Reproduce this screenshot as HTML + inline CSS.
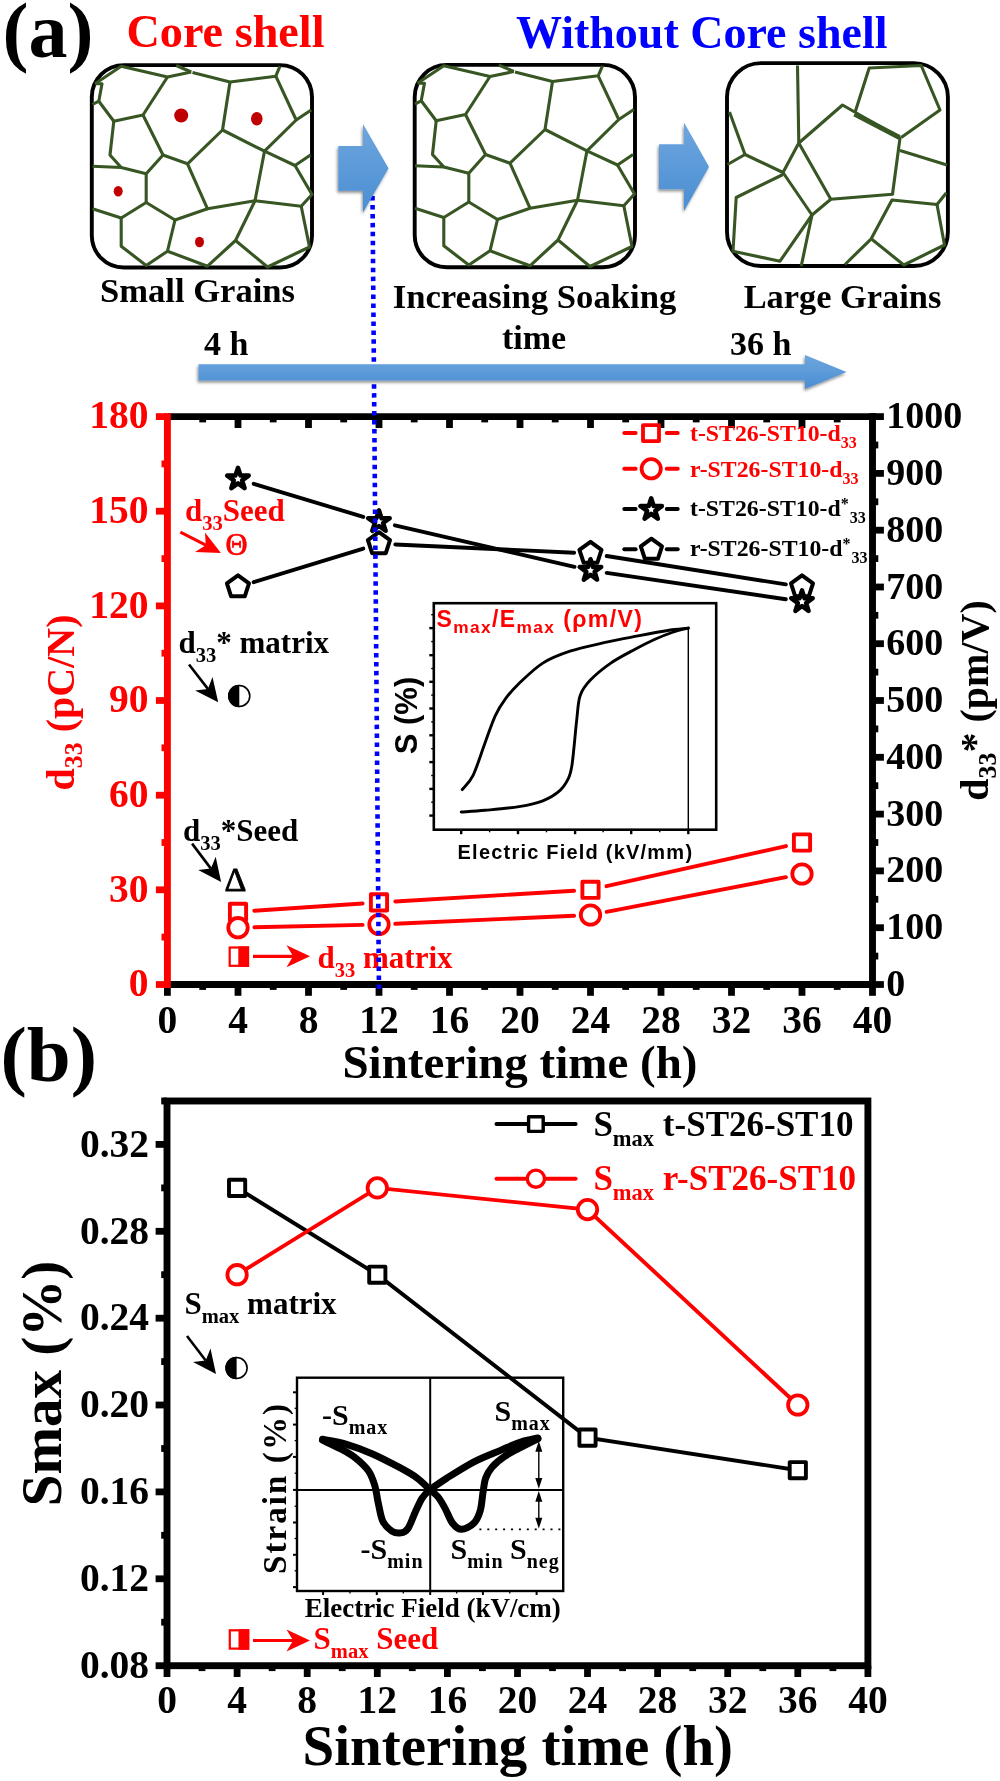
<!DOCTYPE html><html><head><meta charset="utf-8"><title>Figure</title>
<style>html,body{margin:0;padding:0;background:#fff}svg{display:block;opacity:0.999}text{font-family:"Liberation Serif","Times New Roman",serif;font-weight:bold}.sans{font-family:"Liberation Sans",Arial,sans-serif}</style></head><body>
<svg width="1000" height="1781" viewBox="0 0 1000 1781">
<defs><linearGradient id="bg" x1="0" y1="0" x2="0" y2="1"><stop offset="0" stop-color="#6ea6de"/><stop offset="1" stop-color="#4a8ed3"/></linearGradient><filter id="sh" x="-20%" y="-20%" width="140%" height="150%"><feGaussianBlur in="SourceAlpha" stdDeviation="1.6"/><feOffset dx="-0.8" dy="1.8"/><feComponentTransfer><feFuncA type="linear" slope="0.45"/></feComponentTransfer><feMerge><feMergeNode/><feMergeNode in="SourceGraphic"/></feMerge></filter></defs>
<rect width="1000" height="1781" fill="#fff"/>
<text x="2.5" y="56.5" font-size="78" fill="#000" text-anchor="start" >(a)</text>
<text x="126.5" y="47.0" font-size="46.2" fill="#ff0000" text-anchor="start" >Core shell</text>
<text x="516.0" y="47.5" font-size="46" fill="#0000ff" text-anchor="start" >Without Core shell</text>
<rect x="91.8" y="65.1" width="220.2" height="202.4" rx="32" ry="32" fill="none" stroke="#000" stroke-width="3.9"/>
<g fill="none" stroke="#375623" stroke-width="3.1" stroke-linejoin="round" stroke-linecap="butt">
<polyline points="95.0,83.8 121.2,66.2 167.5,77.0 191.2,72.0"/>
<polyline points="176.2,65.5 191.2,72.0"/>
<polyline points="192.5,72.5 230.0,82.0 275.8,76.2 280.0,66.2"/>
<polyline points="95.0,83.8 102.0,83.8 98.8,101.2 92.5,104.5"/>
<polyline points="98.8,101.2 113.8,121.2 143.0,115.0 167.5,77.0"/>
<polyline points="113.8,121.2 110.0,155.0 121.2,167.5 92.5,166.2"/>
<polyline points="121.2,167.5 146.2,173.8"/>
<polyline points="143.0,115.0 163.0,155.0 146.2,173.8 146.2,202.5"/>
<polyline points="163.0,155.0 187.5,163.8 222.5,130.0 230.0,82.0"/>
<polyline points="222.5,130.0 264.5,151.2 296.2,120.0 275.8,76.2"/>
<polyline points="296.2,120.0 311.2,110.0"/>
<polyline points="264.5,151.2 295.0,165.5 310.5,155.0"/>
<polyline points="295.0,165.5 312.0,194.5 301.2,206.2 255.0,200.8 264.5,151.2"/>
<polyline points="187.5,163.8 207.5,208.8 255.0,200.8"/>
<polyline points="207.5,208.8 175.0,220.0 146.2,202.5 121.2,218.0 92.5,208.8"/>
<polyline points="121.2,218.0 121.2,246.2 146.2,265.5 167.5,251.2 175.0,220.0"/>
<polyline points="167.5,251.2 207.5,266.2 235.5,240.5 255.0,200.8"/>
<polyline points="235.5,240.5 267.5,267.0 309.5,247.0 301.2,206.2"/>
</g>
<ellipse cx="181.2" cy="115.5" rx="7.0" ry="7.0" fill="#c00000"/>
<ellipse cx="256.8" cy="118.8" rx="5.8" ry="6.8" fill="#c00000"/>
<ellipse cx="118.2" cy="191.2" rx="4.5" ry="5.2" fill="#c00000"/>
<ellipse cx="199.5" cy="242.0" rx="4.5" ry="5.2" fill="#c00000"/>
<rect x="414.7" y="64.9" width="220.3" height="202.4" rx="32" ry="32" fill="none" stroke="#000" stroke-width="3.9"/>
<g fill="none" stroke="#375623" stroke-width="3.1" stroke-linejoin="round" stroke-linecap="butt">
<polyline points="417.5,83.2 443.8,65.8 490.0,76.5 513.8,71.5"/>
<polyline points="498.8,65.0 513.8,71.5"/>
<polyline points="515.0,72.0 552.5,81.5 598.2,75.8 602.5,65.8"/>
<polyline points="417.5,83.2 424.5,83.2 421.2,100.8 415.0,104.0"/>
<polyline points="421.2,100.8 436.2,120.8 465.5,114.5 490.0,76.5"/>
<polyline points="436.2,120.8 432.5,154.5 443.8,167.0 415.0,165.8"/>
<polyline points="443.8,167.0 468.8,173.2"/>
<polyline points="465.5,114.5 485.5,154.5 468.8,173.2 468.8,202.0"/>
<polyline points="485.5,154.5 510.0,163.2 545.0,129.5 552.5,81.5"/>
<polyline points="545.0,129.5 587.0,150.8 618.8,119.5 598.2,75.8"/>
<polyline points="618.8,119.5 633.8,109.5"/>
<polyline points="587.0,150.8 617.5,165.0 633.0,154.5"/>
<polyline points="617.5,165.0 634.5,194.0 623.8,205.8 577.5,200.2 587.0,150.8"/>
<polyline points="510.0,163.2 530.0,208.2 577.5,200.2"/>
<polyline points="530.0,208.2 497.5,219.5 468.8,202.0 443.8,217.5 415.0,208.2"/>
<polyline points="443.8,217.5 443.8,245.8 468.8,265.0 490.0,250.8 497.5,219.5"/>
<polyline points="490.0,250.8 530.0,265.8 558.0,240.0 577.5,200.2"/>
<polyline points="558.0,240.0 590.0,266.5 632.0,246.5 623.8,205.8"/>
</g>
<rect x="727.0" y="63.1" width="220.9" height="202.9" rx="34" ry="34" fill="none" stroke="#000" stroke-width="3.9"/>
<g fill="none" stroke="#375623" stroke-width="3.1" stroke-linejoin="round" stroke-linecap="butt">
<polyline points="797.5,65.5 798.8,143.0"/>
<polyline points="798.8,143.0 842.5,105.0 900.0,138.0 892.5,194.2 830.8,199.2 798.8,143.0"/>
<polyline points="855.0,112.5 869.2,68.0 921.2,65.5 940.0,110.0 901.2,137.5"/>
<polyline points="854.5,114.0 899.5,137.5" stroke-width="4.8"/>
<polyline points="900.0,150.5 947.0,165.0"/>
<polyline points="798.8,143.0 783.0,172.5 745.0,154.5 729.5,112.0"/>
<polyline points="745.0,154.5 727.5,164.5"/>
<polyline points="783.0,172.5 812.0,215.0 830.8,199.2"/>
<polyline points="783.0,174.5 736.2,197.5 733.0,251.2 780.0,261.2 812.0,215.0"/>
<polyline points="812.0,215.0 801.2,266.2"/>
<polyline points="845.0,264.5 871.2,238.8 892.0,200.0 937.0,204.5 946.2,193.0"/>
<polyline points="937.0,204.5 944.5,245.0 903.8,265.0 871.2,238.8"/>
</g>
<text x="100.0" y="301.6" font-size="34.6" fill="#000" text-anchor="start" >Small Grains</text>
<text x="534.5" y="307.5" font-size="34.7" fill="#000" text-anchor="middle" >Increasing Soaking</text>
<text x="534.0" y="349.0" font-size="34" fill="#000" text-anchor="middle" >time</text>
<text x="842.5" y="307.5" font-size="34.4" fill="#000" text-anchor="middle" >Large Grains</text>
<text x="204.0" y="355.0" font-size="34" fill="#000" text-anchor="start" >4 h</text>
<text x="730.0" y="355.0" font-size="34" fill="#000" text-anchor="start" >36 h</text>
<g stroke="#000" stroke-width="6.8" fill="none">
<line x1="202.7" y1="416.6" x2="202.7" y2="422.4"/>
<line x1="238.0" y1="416.6" x2="238.0" y2="428.0"/>
<line x1="273.2" y1="416.6" x2="273.2" y2="422.4"/>
<line x1="308.5" y1="416.6" x2="308.5" y2="428.0"/>
<line x1="343.7" y1="416.6" x2="343.7" y2="422.4"/>
<line x1="379.0" y1="416.6" x2="379.0" y2="428.0"/>
<line x1="414.2" y1="416.6" x2="414.2" y2="422.4"/>
<line x1="449.5" y1="416.6" x2="449.5" y2="428.0"/>
<line x1="484.7" y1="416.6" x2="484.7" y2="422.4"/>
<line x1="520.0" y1="416.6" x2="520.0" y2="428.0"/>
<line x1="555.2" y1="416.6" x2="555.2" y2="422.4"/>
<line x1="590.5" y1="416.6" x2="590.5" y2="428.0"/>
<line x1="625.7" y1="416.6" x2="625.7" y2="422.4"/>
<line x1="661.0" y1="416.6" x2="661.0" y2="428.0"/>
<line x1="696.2" y1="416.6" x2="696.2" y2="422.4"/>
<line x1="731.5" y1="416.6" x2="731.5" y2="428.0"/>
<line x1="766.7" y1="416.6" x2="766.7" y2="422.4"/>
<line x1="802.0" y1="416.6" x2="802.0" y2="428.0"/>
<line x1="837.2" y1="416.6" x2="837.2" y2="422.4"/>
<line x1="167.4" y1="984.5" x2="167.4" y2="995.8"/>
<line x1="202.7" y1="984.5" x2="202.7" y2="989.9"/>
<line x1="238.0" y1="984.5" x2="238.0" y2="995.8"/>
<line x1="273.2" y1="984.5" x2="273.2" y2="989.9"/>
<line x1="308.5" y1="984.5" x2="308.5" y2="995.8"/>
<line x1="343.7" y1="984.5" x2="343.7" y2="989.9"/>
<line x1="379.0" y1="984.5" x2="379.0" y2="995.8"/>
<line x1="414.2" y1="984.5" x2="414.2" y2="989.9"/>
<line x1="449.5" y1="984.5" x2="449.5" y2="995.8"/>
<line x1="484.7" y1="984.5" x2="484.7" y2="989.9"/>
<line x1="520.0" y1="984.5" x2="520.0" y2="995.8"/>
<line x1="555.2" y1="984.5" x2="555.2" y2="989.9"/>
<line x1="590.5" y1="984.5" x2="590.5" y2="995.8"/>
<line x1="625.7" y1="984.5" x2="625.7" y2="989.9"/>
<line x1="661.0" y1="984.5" x2="661.0" y2="995.8"/>
<line x1="696.2" y1="984.5" x2="696.2" y2="989.9"/>
<line x1="731.5" y1="984.5" x2="731.5" y2="995.8"/>
<line x1="766.7" y1="984.5" x2="766.7" y2="989.9"/>
<line x1="802.0" y1="984.5" x2="802.0" y2="995.8"/>
<line x1="837.2" y1="984.5" x2="837.2" y2="989.9"/>
<line x1="872.5" y1="984.5" x2="872.5" y2="995.8"/>
<line x1="872.5" y1="984.5" x2="883.9" y2="984.5"/>
<line x1="872.5" y1="956.1" x2="878.3" y2="956.1"/>
<line x1="872.5" y1="927.7" x2="883.9" y2="927.7"/>
<line x1="872.5" y1="899.3" x2="878.3" y2="899.3"/>
<line x1="872.5" y1="870.9" x2="883.9" y2="870.9"/>
<line x1="872.5" y1="842.5" x2="878.3" y2="842.5"/>
<line x1="872.5" y1="814.1" x2="883.9" y2="814.1"/>
<line x1="872.5" y1="785.7" x2="878.3" y2="785.7"/>
<line x1="872.5" y1="757.3" x2="883.9" y2="757.3"/>
<line x1="872.5" y1="728.9" x2="878.3" y2="728.9"/>
<line x1="872.5" y1="700.5" x2="883.9" y2="700.5"/>
<line x1="872.5" y1="672.1" x2="878.3" y2="672.1"/>
<line x1="872.5" y1="643.7" x2="883.9" y2="643.7"/>
<line x1="872.5" y1="615.3" x2="878.3" y2="615.3"/>
<line x1="872.5" y1="587.0" x2="883.9" y2="587.0"/>
<line x1="872.5" y1="558.6" x2="878.3" y2="558.6"/>
<line x1="872.5" y1="530.2" x2="883.9" y2="530.2"/>
<line x1="872.5" y1="501.8" x2="878.3" y2="501.8"/>
<line x1="872.5" y1="473.4" x2="883.9" y2="473.4"/>
<line x1="872.5" y1="445.0" x2="878.3" y2="445.0"/>
<line x1="872.5" y1="416.6" x2="883.9" y2="416.6"/>
</g>
<g stroke="#000" stroke-width="6.9" fill="none" stroke-linecap="square">
<line x1="171.4" y1="416.6" x2="872.5" y2="416.6"/>
<line x1="171.4" y1="984.5" x2="872.5" y2="984.5"/>
<line x1="872.5" y1="416.6" x2="872.5" y2="984.5"/>
</g>
<g stroke="#ff0000" stroke-width="6.8" fill="none">
<line x1="167.4" y1="984.5" x2="155.9" y2="984.5"/>
<line x1="167.4" y1="937.1" x2="161.5" y2="937.1"/>
<line x1="167.4" y1="889.8" x2="155.9" y2="889.8"/>
<line x1="167.4" y1="842.5" x2="161.5" y2="842.5"/>
<line x1="167.4" y1="795.2" x2="155.9" y2="795.2"/>
<line x1="167.4" y1="747.8" x2="161.5" y2="747.8"/>
<line x1="167.4" y1="700.5" x2="155.9" y2="700.5"/>
<line x1="167.4" y1="653.2" x2="161.5" y2="653.2"/>
<line x1="167.4" y1="605.9" x2="155.9" y2="605.9"/>
<line x1="167.4" y1="558.6" x2="161.5" y2="558.6"/>
<line x1="167.4" y1="511.2" x2="155.9" y2="511.2"/>
<line x1="167.4" y1="463.9" x2="161.5" y2="463.9"/>
<line x1="167.4" y1="416.6" x2="155.9" y2="416.6"/>
<line x1="167.4" y1="413.2" x2="167.4" y2="987.9" stroke-width="6.9"/>
</g>
<text x="148.4" y="996.2" font-size="39.5" fill="#ff0000" text-anchor="end" >0</text>
<text x="148.4" y="901.5" font-size="39.5" fill="#ff0000" text-anchor="end" >30</text>
<text x="148.4" y="806.9" font-size="39.5" fill="#ff0000" text-anchor="end" >60</text>
<text x="148.4" y="712.2" font-size="39.5" fill="#ff0000" text-anchor="end" >90</text>
<text x="148.4" y="617.6" font-size="39.5" fill="#ff0000" text-anchor="end" >120</text>
<text x="148.4" y="522.9" font-size="39.5" fill="#ff0000" text-anchor="end" >150</text>
<text x="148.4" y="428.3" font-size="39.5" fill="#ff0000" text-anchor="end" >180</text>
<text x="886.2" y="996.0" font-size="38" fill="#000" text-anchor="start" >0</text>
<text x="886.2" y="939.2" font-size="38" fill="#000" text-anchor="start" >100</text>
<text x="886.2" y="882.4" font-size="38" fill="#000" text-anchor="start" >200</text>
<text x="886.2" y="825.6" font-size="38" fill="#000" text-anchor="start" >300</text>
<text x="886.2" y="768.8" font-size="38" fill="#000" text-anchor="start" >400</text>
<text x="886.2" y="712.0" font-size="38" fill="#000" text-anchor="start" >500</text>
<text x="886.2" y="655.2" font-size="38" fill="#000" text-anchor="start" >600</text>
<text x="886.2" y="598.5" font-size="38" fill="#000" text-anchor="start" >700</text>
<text x="886.2" y="541.7" font-size="38" fill="#000" text-anchor="start" >800</text>
<text x="886.2" y="484.9" font-size="38" fill="#000" text-anchor="start" >900</text>
<text x="886.2" y="428.1" font-size="38" fill="#000" text-anchor="start" >1000</text>
<text x="167.4" y="1032.9" font-size="39.5" fill="#000" text-anchor="middle" >0</text>
<text x="238.0" y="1032.9" font-size="39.5" fill="#000" text-anchor="middle" >4</text>
<text x="308.5" y="1032.9" font-size="39.5" fill="#000" text-anchor="middle" >8</text>
<text x="379.0" y="1032.9" font-size="39.5" fill="#000" text-anchor="middle" >12</text>
<text x="449.5" y="1032.9" font-size="39.5" fill="#000" text-anchor="middle" >16</text>
<text x="520.0" y="1032.9" font-size="39.5" fill="#000" text-anchor="middle" >20</text>
<text x="590.5" y="1032.9" font-size="39.5" fill="#000" text-anchor="middle" >24</text>
<text x="661.0" y="1032.9" font-size="39.5" fill="#000" text-anchor="middle" >28</text>
<text x="731.5" y="1032.9" font-size="39.5" fill="#000" text-anchor="middle" >32</text>
<text x="802.0" y="1032.9" font-size="39.5" fill="#000" text-anchor="middle" >36</text>
<text x="872.5" y="1032.9" font-size="39.5" fill="#000" text-anchor="middle" >40</text>
<text x="520.0" y="1077.5" font-size="47" fill="#000" text-anchor="middle" >Sintering time (h)</text>
<text transform="translate(74.3,702.5) rotate(-90)" font-size="40" fill="#ff0000" text-anchor="middle">d<tspan font-size="26" dy="8">33</tspan><tspan dy="-8"> (pC/N)</tspan></text>
<text transform="translate(988,700.5) rotate(-90)" font-size="40" fill="#000" text-anchor="middle">d<tspan font-size="26" dy="8">33</tspan><tspan dy="-8">* (pm/V)</tspan></text>
<line x1="253.7" y1="483.8" x2="363.3" y2="516.9" stroke="#000" stroke-width="3.9" stroke-linecap="round"/>
<line x1="394.9" y1="525.3" x2="574.5" y2="566.8" stroke="#000" stroke-width="3.9" stroke-linecap="round"/>
<line x1="606.7" y1="572.9" x2="785.8" y2="599.3" stroke="#000" stroke-width="3.9" stroke-linecap="round"/>
<line x1="253.6" y1="582.2" x2="363.3" y2="548.6" stroke="#000" stroke-width="3.9" stroke-linecap="round"/>
<line x1="395.3" y1="544.5" x2="574.1" y2="552.7" stroke="#000" stroke-width="3.9" stroke-linecap="round"/>
<line x1="606.7" y1="556.0" x2="785.8" y2="584.4" stroke="#000" stroke-width="3.9" stroke-linecap="round"/>
<line x1="254.3" y1="910.8" x2="362.6" y2="903.5" stroke="#ff0000" stroke-width="3.9" stroke-linecap="round"/>
<line x1="395.3" y1="901.5" x2="574.1" y2="890.8" stroke="#ff0000" stroke-width="3.9" stroke-linecap="round"/>
<line x1="606.5" y1="886.2" x2="786.0" y2="846.1" stroke="#ff0000" stroke-width="3.9" stroke-linecap="round"/>
<line x1="254.4" y1="927.3" x2="362.6" y2="924.9" stroke="#ff0000" stroke-width="3.9" stroke-linecap="round"/>
<line x1="395.3" y1="923.8" x2="574.1" y2="915.8" stroke="#ff0000" stroke-width="3.9" stroke-linecap="round"/>
<line x1="606.6" y1="911.9" x2="785.9" y2="877.2" stroke="#ff0000" stroke-width="3.9" stroke-linecap="round"/>
<rect x="229.9" y="903.8" width="16.2" height="16.2" fill="#fff" stroke="#ff0000" stroke-width="3.9" stroke-linejoin="round"/>
<rect x="370.9" y="894.3" width="16.2" height="16.2" fill="#fff" stroke="#ff0000" stroke-width="3.9" stroke-linejoin="round"/>
<rect x="582.4" y="881.7" width="16.2" height="16.2" fill="#fff" stroke="#ff0000" stroke-width="3.9" stroke-linejoin="round"/>
<rect x="793.9" y="834.4" width="16.2" height="16.2" fill="#fff" stroke="#ff0000" stroke-width="3.9" stroke-linejoin="round"/>
<circle cx="238.0" cy="927.7" r="9.7" fill="#fff" stroke="#ff0000" stroke-width="3.8"/>
<circle cx="379.0" cy="924.5" r="9.7" fill="#fff" stroke="#ff0000" stroke-width="3.8"/>
<circle cx="590.5" cy="915.0" r="9.7" fill="#fff" stroke="#ff0000" stroke-width="3.8"/>
<circle cx="802.0" cy="874.0" r="9.7" fill="#fff" stroke="#ff0000" stroke-width="3.8"/>
<polygon points="238.0,575.4 249.0,583.4 244.8,596.3 231.1,596.3 226.9,583.4" fill="#fff" stroke="#000" stroke-width="4.0" stroke-linejoin="round"/>
<polygon points="379.0,532.2 390.0,540.2 385.8,553.2 372.1,553.2 367.9,540.2" fill="#fff" stroke="#000" stroke-width="4.0" stroke-linejoin="round"/>
<polygon points="590.5,541.9 601.5,549.9 597.3,562.8 583.7,562.8 579.4,549.9" fill="#fff" stroke="#000" stroke-width="4.0" stroke-linejoin="round"/>
<polygon points="802.0,575.4 813.0,583.4 808.8,596.3 795.2,596.3 791.0,583.4" fill="#fff" stroke="#000" stroke-width="4.0" stroke-linejoin="round"/>
<polygon points="238.0,467.8 240.5,475.6 248.7,475.6 242.1,480.4 244.6,488.2 238.0,483.4 231.3,488.2 233.8,480.4 227.2,475.6 235.4,475.6" fill="#fff" stroke="#000" stroke-width="4.5" stroke-linejoin="round"/>
<polygon points="379.0,510.4 381.5,518.2 389.7,518.2 383.1,523.0 385.6,530.8 379.0,526.0 372.3,530.8 374.9,523.0 368.2,518.2 376.4,518.2" fill="#fff" stroke="#000" stroke-width="4.5" stroke-linejoin="round"/>
<polygon points="590.5,559.2 593.0,567.0 601.2,567.0 594.6,571.8 597.1,579.6 590.5,574.8 583.8,579.6 586.4,571.8 579.7,567.0 587.9,567.0" fill="#fff" stroke="#000" stroke-width="4.5" stroke-linejoin="round"/>
<polygon points="802.0,590.4 804.5,598.2 812.7,598.2 806.1,603.1 808.6,610.9 802.0,606.0 795.4,610.9 797.9,603.1 791.2,598.2 799.5,598.2" fill="#fff" stroke="#000" stroke-width="4.5" stroke-linejoin="round"/>
<line x1="624.3" y1="433.1" x2="635.6" y2="433.1" stroke="#ff0000" stroke-width="4" stroke-linecap="round"/>
<line x1="666.8" y1="433.1" x2="677.7" y2="433.1" stroke="#ff0000" stroke-width="4" stroke-linecap="round"/>
<rect x="643.0" y="425.1" width="16.0" height="16.0" fill="#fff" stroke="#ff0000" stroke-width="3.8" stroke-linejoin="round"/>
<line x1="624.3" y1="468.8" x2="635.6" y2="468.8" stroke="#ff0000" stroke-width="4" stroke-linecap="round"/>
<line x1="666.8" y1="468.8" x2="677.7" y2="468.8" stroke="#ff0000" stroke-width="4" stroke-linecap="round"/>
<circle cx="651.2" cy="468.8" r="9.6" fill="#fff" stroke="#ff0000" stroke-width="3.8"/>
<line x1="624.3" y1="509.1" x2="635.6" y2="509.1" stroke="#000" stroke-width="4" stroke-linecap="round"/>
<line x1="666.8" y1="509.1" x2="677.7" y2="509.1" stroke="#000" stroke-width="4" stroke-linecap="round"/>
<polygon points="651.2,498.3 653.7,506.1 661.9,506.1 655.3,510.9 657.8,518.7 651.2,513.9 644.6,518.7 647.1,510.9 640.5,506.1 648.7,506.1" fill="#fff" stroke="#000" stroke-width="4.5" stroke-linejoin="round"/>
<line x1="624.3" y1="549.3" x2="635.6" y2="549.3" stroke="#000" stroke-width="4" stroke-linecap="round"/>
<line x1="666.8" y1="549.3" x2="677.7" y2="549.3" stroke="#000" stroke-width="4" stroke-linecap="round"/>
<polygon points="651.4,538.7 662.0,546.4 657.9,558.8 644.9,558.8 640.8,546.4" fill="#fff" stroke="#000" stroke-width="4.0" stroke-linejoin="round"/>
<text x="690" y="441" font-size="23.8" fill="#ff0000">t-ST26-ST10-d<tspan font-size="16" dy="7">33</tspan></text>
<text x="690" y="476.5" font-size="23.8" fill="#ff0000">r-ST26-ST10-d<tspan font-size="16" dy="7">33</tspan></text>
<text x="690" y="516" font-size="23.8" fill="#000">t-ST26-ST10-d<tspan font-size="16" dy="-7">*</tspan><tspan font-size="16" dy="14" dx="1">33</tspan></text>
<text x="690" y="556" font-size="23.8" fill="#000">r-ST26-ST10-d<tspan font-size="16" dy="-7">*</tspan><tspan font-size="16" dy="14" dx="1">33</tspan></text>
<text x="185" y="521.4" font-size="31" fill="#ff0000">d<tspan font-size="20.5" dy="9">33</tspan><tspan dy="-9">Seed</tspan></text>
<line x1="180.4" y1="532.2" x2="205.8" y2="545.2" stroke="#ff0000" stroke-width="3.0"/>
<polygon fill="#ff0000" points="220.9,552.9 195.0,552.0 205.8,545.2 205.0,532.4"/>
<text x="236.4" y="554.6" font-size="30.5" fill="#ff0000" text-anchor="middle" style="font-weight:normal" stroke="#ff0000" stroke-width="0.7">&#920;</text>
<text x="178.5" y="652.8" font-size="31" fill="#000">d<tspan font-size="20.5" dy="9">33</tspan><tspan dy="-9">* matrix</tspan></text>
<line x1="189.0" y1="664.5" x2="207.9" y2="688.9" stroke="#000" stroke-width="2.6"/>
<polygon fill="#000" points="218.2,702.3 195.1,690.4 207.9,688.9 212.5,677.0"/>
<circle cx="239.3" cy="696.0" r="10.5" fill="#fff" stroke="#000" stroke-width="1.6"/>
<path d="M239.3,684.7 A11.3,11.3 0 0 0 239.3,707.3 Z" fill="#000"/>
<text x="183" y="841.2" font-size="31" fill="#000">d<tspan font-size="20.5" dy="9">33</tspan><tspan dy="-9">*Seed</tspan></text>
<line x1="192.1" y1="843.6" x2="210.9" y2="868.6" stroke="#000" stroke-width="2.6"/>
<polygon fill="#000" points="221.1,882.1 198.2,869.9 210.9,868.6 215.7,856.7"/>
<text x="235.5" y="890.8" font-size="34" fill="#000" text-anchor="middle" style="font-weight:normal" stroke="#000" stroke-width="0.9">&#916;</text>
<rect x="229.7" y="947.5" width="18.3" height="18.3" fill="#fff" stroke="#ff0000" stroke-width="2.2"/>
<rect x="238.3" y="946.4" width="10.8" height="20.5" fill="#ff0000"/>
<line x1="253.0" y1="956.3" x2="293.1" y2="956.3" stroke="#ff0000" stroke-width="3.2"/>
<polygon fill="#ff0000" points="310.0,956.3 286.5,967.3 293.1,956.3 286.5,945.3"/>
<text x="317.5" y="968" font-size="31" fill="#ff0000">d<tspan font-size="20.5" dy="9">33</tspan><tspan dy="-9"> matrix</tspan></text>
<rect x="433.8" y="603.2" width="282.4" height="226.5" fill="none" stroke="#000" stroke-width="2.6"/>
<g stroke="#000" stroke-width="2.4">
<line x1="433.8" y1="628.1" x2="429.3" y2="628.1"/>
<line x1="433.8" y1="655.2" x2="429.3" y2="655.2"/>
<line x1="433.8" y1="681.8" x2="429.3" y2="681.8"/>
<line x1="433.8" y1="708.5" x2="429.3" y2="708.5"/>
<line x1="433.8" y1="735.3" x2="429.3" y2="735.3"/>
<line x1="433.8" y1="762.1" x2="429.3" y2="762.1"/>
<line x1="433.8" y1="788.9" x2="429.3" y2="788.9"/>
<line x1="433.8" y1="815.6" x2="429.3" y2="815.6"/>
<line x1="461.2" y1="829.7" x2="461.2" y2="834.2"/>
<line x1="518.0" y1="829.7" x2="518.0" y2="834.2"/>
<line x1="575.1" y1="829.7" x2="575.1" y2="834.2"/>
<line x1="631.2" y1="829.7" x2="631.2" y2="834.2"/>
<line x1="688.3" y1="829.7" x2="688.3" y2="834.2"/>
</g><g stroke="#000" stroke-width="1.4">
<line x1="433.8" y1="614.7" x2="431.2" y2="614.7"/>
<line x1="433.8" y1="641.6" x2="431.2" y2="641.6"/>
<line x1="433.8" y1="668.5" x2="431.2" y2="668.5"/>
<line x1="433.8" y1="695.1" x2="431.2" y2="695.1"/>
<line x1="433.8" y1="721.9" x2="431.2" y2="721.9"/>
<line x1="433.8" y1="748.7" x2="431.2" y2="748.7"/>
<line x1="433.8" y1="775.5" x2="431.2" y2="775.5"/>
<line x1="433.8" y1="802.2" x2="431.2" y2="802.2"/>
<line x1="489.6" y1="829.7" x2="489.6" y2="832.3"/>
<line x1="546.5" y1="829.7" x2="546.5" y2="832.3"/>
<line x1="603.1" y1="829.7" x2="603.1" y2="832.3"/>
<line x1="659.7" y1="829.7" x2="659.7" y2="832.3"/>
</g>
<path d="M462.2,789.6 C464.0,787.2 469.3,783.1 473.1,775.3 C476.9,767.5 481.3,752.9 485.0,743.0 C488.7,733.1 491.8,723.2 495.2,715.8 C498.6,708.4 501.4,704.2 505.4,698.8 C509.4,693.4 512.8,689.5 519.0,683.5 C525.2,677.6 534.3,668.5 542.8,663.1 C551.3,657.7 559.8,654.6 570.0,651.2 C580.2,647.8 592.7,645.3 604.0,642.7 C615.3,640.2 626.7,638.1 638.0,635.9 C649.3,633.7 663.6,631.1 672.0,629.8 C680.4,628.5 685.6,628.4 688.3,628.1" fill="none" stroke="#000" stroke-width="2.9" stroke-linecap="round"/>
<path d="M688.3,628.1 C685.6,628.8 677.6,630.6 672.0,632.5 C666.5,634.4 661.2,636.5 655.0,639.3 C648.8,642.1 642.0,645.5 634.6,649.5 C627.2,653.5 618.2,658.0 610.8,663.1 C603.4,668.2 595.5,674.7 590.4,680.1 C585.3,685.5 582.5,688.9 580.2,695.4 C577.9,701.9 577.8,710.7 576.8,719.2 C575.8,727.7 574.9,738.5 574.1,746.4 C573.2,754.3 572.7,761.4 571.7,766.8 C570.7,772.2 570.3,774.7 568.3,778.7 C566.3,782.7 564.1,786.9 559.8,790.6 C555.6,794.3 549.6,798.1 542.8,800.8 C536.0,803.5 528.6,805.0 519.0,806.6 C509.4,808.2 494.6,809.4 485.0,810.3 C475.4,811.2 465.2,811.7 461.2,812.0" fill="none" stroke="#000" stroke-width="2.9" stroke-linecap="round"/>
<line x1="688.3" y1="628" x2="688.3" y2="829.7" stroke="#000" stroke-width="1.4"/>
<text class="sans" x="436.5" y="627.4" font-size="23" letter-spacing="1.4" fill="#ff0000">S<tspan font-size="17.3" dy="6">max</tspan><tspan dy="-6">/E</tspan><tspan font-size="17.3" dy="6">max</tspan><tspan dy="-6"> (&#961;m/V)</tspan></text>
<text class="sans" x="574.8" y="859.2" font-size="20" text-anchor="middle" textLength="234.5" lengthAdjust="spacing">Electric Field (kV/mm)</text>
<text class="sans" transform="translate(417.4,715.5) rotate(-90)" font-size="31" text-anchor="middle">S (%)</text>
<line x1="372.5" y1="196" x2="378.95" y2="989.5" stroke="#0000ff" stroke-width="4.6" stroke-dasharray="4.5 4.46"/>
<polygon filter="url(#sh)" fill="url(#bg)" points="338.3,146.0 363.0,146.0 363.0,124.0 388.5,168.2 363.0,212.5 363.0,190.7 338.3,190.7"/>
<polygon filter="url(#sh)" fill="url(#bg)" points="659.0,144.3 684.0,144.3 684.0,122.5 709.0,166.8 684.0,211.0 684.0,189.3 659.0,189.3"/>
<polygon filter="url(#sh)" fill="url(#bg)" points="198.5,364.3 805.0,364.3 805.0,355.0 846.5,372.0 805.0,389.0 805.0,380.4 198.5,380.4"/>
<g stroke="#000" stroke-width="6.8" fill="none">
<line x1="167.0" y1="1665.7" x2="167.0" y2="1677.0"/>
<line x1="202.0" y1="1665.7" x2="202.0" y2="1671.1"/>
<line x1="237.1" y1="1665.7" x2="237.1" y2="1677.0"/>
<line x1="272.1" y1="1665.7" x2="272.1" y2="1671.1"/>
<line x1="307.2" y1="1665.7" x2="307.2" y2="1677.0"/>
<line x1="342.2" y1="1665.7" x2="342.2" y2="1671.1"/>
<line x1="377.3" y1="1665.7" x2="377.3" y2="1677.0"/>
<line x1="412.3" y1="1665.7" x2="412.3" y2="1671.1"/>
<line x1="447.4" y1="1665.7" x2="447.4" y2="1677.0"/>
<line x1="482.4" y1="1665.7" x2="482.4" y2="1671.1"/>
<line x1="517.5" y1="1665.7" x2="517.5" y2="1677.0"/>
<line x1="552.5" y1="1665.7" x2="552.5" y2="1671.1"/>
<line x1="587.5" y1="1665.7" x2="587.5" y2="1677.0"/>
<line x1="622.6" y1="1665.7" x2="622.6" y2="1671.1"/>
<line x1="657.6" y1="1665.7" x2="657.6" y2="1677.0"/>
<line x1="692.7" y1="1665.7" x2="692.7" y2="1671.1"/>
<line x1="727.7" y1="1665.7" x2="727.7" y2="1677.0"/>
<line x1="762.8" y1="1665.7" x2="762.8" y2="1671.1"/>
<line x1="797.8" y1="1665.7" x2="797.8" y2="1677.0"/>
<line x1="832.9" y1="1665.7" x2="832.9" y2="1671.1"/>
<line x1="867.9" y1="1665.7" x2="867.9" y2="1677.0"/>
<line x1="167.0" y1="1665.7" x2="155.6" y2="1665.7"/>
<line x1="167.0" y1="1622.2" x2="161.2" y2="1622.2"/>
<line x1="167.0" y1="1578.8" x2="155.6" y2="1578.8"/>
<line x1="167.0" y1="1535.3" x2="161.2" y2="1535.3"/>
<line x1="167.0" y1="1491.9" x2="155.6" y2="1491.9"/>
<line x1="167.0" y1="1448.5" x2="161.2" y2="1448.5"/>
<line x1="167.0" y1="1405.0" x2="155.6" y2="1405.0"/>
<line x1="167.0" y1="1361.6" x2="161.2" y2="1361.6"/>
<line x1="167.0" y1="1318.2" x2="155.6" y2="1318.2"/>
<line x1="167.0" y1="1274.7" x2="161.2" y2="1274.7"/>
<line x1="167.0" y1="1231.3" x2="155.6" y2="1231.3"/>
<line x1="167.0" y1="1187.9" x2="161.2" y2="1187.9"/>
<line x1="167.0" y1="1144.4" x2="155.6" y2="1144.4"/>
<line x1="167.0" y1="1101.0" x2="161.2" y2="1101.0"/>
</g>
<rect x="167.0" y="1101.0" width="700.9" height="564.7" fill="none" stroke="#000" stroke-width="6.9"/>
<text x="149.0" y="1677.9" font-size="39.5" fill="#000" text-anchor="end" >0.08</text>
<text x="149.0" y="1591.0" font-size="39.5" fill="#000" text-anchor="end" >0.12</text>
<text x="149.0" y="1504.1" font-size="39.5" fill="#000" text-anchor="end" >0.16</text>
<text x="149.0" y="1417.2" font-size="39.5" fill="#000" text-anchor="end" >0.20</text>
<text x="149.0" y="1330.4" font-size="39.5" fill="#000" text-anchor="end" >0.24</text>
<text x="149.0" y="1243.5" font-size="39.5" fill="#000" text-anchor="end" >0.28</text>
<text x="149.0" y="1156.6" font-size="39.5" fill="#000" text-anchor="end" >0.32</text>
<text x="167.0" y="1713.0" font-size="39.5" fill="#000" text-anchor="middle" >0</text>
<text x="237.1" y="1713.0" font-size="39.5" fill="#000" text-anchor="middle" >4</text>
<text x="307.2" y="1713.0" font-size="39.5" fill="#000" text-anchor="middle" >8</text>
<text x="377.3" y="1713.0" font-size="39.5" fill="#000" text-anchor="middle" >12</text>
<text x="447.4" y="1713.0" font-size="39.5" fill="#000" text-anchor="middle" >16</text>
<text x="517.5" y="1713.0" font-size="39.5" fill="#000" text-anchor="middle" >20</text>
<text x="587.5" y="1713.0" font-size="39.5" fill="#000" text-anchor="middle" >24</text>
<text x="657.6" y="1713.0" font-size="39.5" fill="#000" text-anchor="middle" >28</text>
<text x="727.7" y="1713.0" font-size="39.5" fill="#000" text-anchor="middle" >32</text>
<text x="797.8" y="1713.0" font-size="39.5" fill="#000" text-anchor="middle" >36</text>
<text x="867.9" y="1713.0" font-size="39.5" fill="#000" text-anchor="middle" >40</text>
<text x="517.8" y="1765.0" font-size="57" fill="#000" text-anchor="middle" >Sintering time (h)</text>
<text x="0.5" y="1080.5" font-size="79" fill="#000" text-anchor="start" >(b)</text>
<text transform="translate(60.5,1383.5) rotate(-90)" font-size="57" text-anchor="middle">Smax (%)</text>
<polyline points="237.1,1187.9 377.3,1274.7 587.5,1437.6 797.8,1470.2" fill="none" stroke="#000" stroke-width="3.9"/>
<polyline points="237.1,1274.7 377.3,1187.9 587.5,1209.6 797.8,1405.0" fill="none" stroke="#ff0000" stroke-width="3.9"/>
<rect x="229.0" y="1179.8" width="16.2" height="16.2" fill="#fff" stroke="#000" stroke-width="3.9" stroke-linejoin="round"/>
<rect x="369.2" y="1266.6" width="16.2" height="16.2" fill="#fff" stroke="#000" stroke-width="3.9" stroke-linejoin="round"/>
<rect x="579.4" y="1429.5" width="16.2" height="16.2" fill="#fff" stroke="#000" stroke-width="3.9" stroke-linejoin="round"/>
<rect x="789.7" y="1462.1" width="16.2" height="16.2" fill="#fff" stroke="#000" stroke-width="3.9" stroke-linejoin="round"/>
<circle cx="237.1" cy="1274.7" r="9.7" fill="#fff" stroke="#ff0000" stroke-width="3.8"/>
<circle cx="377.3" cy="1187.9" r="9.7" fill="#fff" stroke="#ff0000" stroke-width="3.8"/>
<circle cx="587.5" cy="1209.6" r="9.7" fill="#fff" stroke="#ff0000" stroke-width="3.8"/>
<circle cx="797.8" cy="1405.0" r="9.7" fill="#fff" stroke="#ff0000" stroke-width="3.8"/>
<line x1="496.5" y1="1124.1" x2="575.6" y2="1124.1" stroke="#000" stroke-width="4" stroke-linecap="round"/>
<rect x="528.6" y="1116.8" width="14.6" height="14.6" fill="#fff" stroke="#000" stroke-width="3.4" stroke-linejoin="round"/>
<line x1="496.5" y1="1178.7" x2="575.6" y2="1178.7" stroke="#ff0000" stroke-width="4" stroke-linecap="round"/>
<circle cx="535.9" cy="1178.7" r="8.6" fill="#fff" stroke="#ff0000" stroke-width="3.4"/>
<text x="593.4" y="1135.5" font-size="35" fill="#000">S<tspan font-size="22.5" dy="10">max</tspan><tspan dy="-10"> t-ST26-ST10</tspan></text>
<text x="593.4" y="1190" font-size="35" fill="#ff0000">S<tspan font-size="22.5" dy="10">max</tspan><tspan dy="-10"> r-ST26-ST10</tspan></text>
<text x="184.5" y="1314" font-size="31" fill="#000">S<tspan font-size="20.5" dy="9">max</tspan><tspan dy="-9"> matrix</tspan></text>
<line x1="187.0" y1="1336.0" x2="205.7" y2="1360.5" stroke="#000" stroke-width="2.6"/>
<polygon fill="#000" points="216.0,1374.0 193.0,1362.0 205.7,1360.5 210.5,1348.6"/>
<circle cx="236.6" cy="1368.0" r="10.5" fill="#fff" stroke="#000" stroke-width="1.6"/>
<path d="M236.6,1356.7 A11.3,11.3 0 0 0 236.6,1379.3 Z" fill="#000"/>
<rect x="229.8" y="1630.3" width="18.3" height="18.3" fill="#fff" stroke="#ff0000" stroke-width="2.2"/>
<rect x="238.5" y="1629.2" width="10.8" height="20.5" fill="#ff0000"/>
<line x1="253.0" y1="1640.5" x2="293.1" y2="1640.5" stroke="#ff0000" stroke-width="3.2"/>
<polygon fill="#ff0000" points="310.0,1640.5 286.5,1651.5 293.1,1640.5 286.5,1629.5"/>
<text x="313.6" y="1649" font-size="31" fill="#ff0000">S<tspan font-size="20.5" dy="9">max</tspan><tspan dy="-9"> Seed</tspan></text>
<rect x="297.0" y="1377.7" width="266.2" height="213.3" fill="none" stroke="#000" stroke-width="2.4"/>
<line x1="430.2" y1="1377.7" x2="430.2" y2="1591.0" stroke="#000" stroke-width="2"/>
<line x1="297.0" y1="1489.9" x2="563.2" y2="1489.9" stroke="#000" stroke-width="2"/>
<g stroke="#000" stroke-width="2">
<line x1="297.0" y1="1392.3" x2="293.0" y2="1392.3"/>
<line x1="297.0" y1="1424.6" x2="293.0" y2="1424.6"/>
<line x1="297.0" y1="1456.9" x2="293.0" y2="1456.9"/>
<line x1="297.0" y1="1489.9" x2="293.0" y2="1489.9"/>
<line x1="297.0" y1="1522.5" x2="293.0" y2="1522.5"/>
<line x1="297.0" y1="1554.8" x2="293.0" y2="1554.8"/>
<line x1="297.0" y1="1587.1" x2="293.0" y2="1587.1"/>
<line x1="323.1" y1="1591.0" x2="323.1" y2="1595.0"/>
<line x1="376.8" y1="1591.0" x2="376.8" y2="1595.0"/>
<line x1="430.2" y1="1591.0" x2="430.2" y2="1595.0"/>
<line x1="482.9" y1="1591.0" x2="482.9" y2="1595.0"/>
<line x1="536.6" y1="1591.0" x2="536.6" y2="1595.0"/>
</g><g stroke="#000" stroke-width="1.3">
<line x1="297.0" y1="1408.3" x2="294.6" y2="1408.3"/>
<line x1="297.0" y1="1440.6" x2="294.6" y2="1440.6"/>
<line x1="297.0" y1="1473.2" x2="294.6" y2="1473.2"/>
<line x1="297.0" y1="1506.2" x2="294.6" y2="1506.2"/>
<line x1="297.0" y1="1538.5" x2="294.6" y2="1538.5"/>
<line x1="297.0" y1="1570.8" x2="294.6" y2="1570.8"/>
<line x1="350.0" y1="1591.0" x2="350.0" y2="1593.4"/>
<line x1="403.3" y1="1591.0" x2="403.3" y2="1593.4"/>
<line x1="456.7" y1="1591.0" x2="456.7" y2="1593.4"/>
<line x1="509.8" y1="1591.0" x2="509.8" y2="1593.4"/>
</g>
<path d="M322.5,1439.3 C326.2,1440.0 336.8,1441.4 345.0,1443.8 C353.2,1446.2 363.0,1449.8 372.0,1453.7 C381.0,1457.6 391.5,1463.2 399.0,1467.2 C406.5,1471.2 411.9,1474.2 417.0,1478.0 C422.1,1481.8 427.8,1487.8 429.9,1489.7" fill="none" stroke="#000" stroke-width="7" stroke-linecap="round" stroke-linejoin="round"/>
<path d="M322.5,1440.2 C325.6,1441.7 335.8,1446.2 341.4,1449.2 C346.9,1452.2 351.3,1454.6 355.8,1458.2 C360.3,1461.8 365.2,1466.3 368.4,1470.8 C371.5,1475.3 373.0,1479.8 374.7,1485.2 C376.4,1490.6 376.9,1497.2 378.3,1503.2 C379.7,1509.2 380.6,1516.6 382.8,1521.2 C385.1,1525.8 388.8,1529.1 391.8,1531.1 C394.8,1533.0 398.1,1533.4 400.8,1532.9 C403.5,1532.5 405.6,1531.9 408.0,1528.4 C410.4,1525.0 412.8,1517.3 415.2,1512.2 C417.6,1507.1 419.9,1501.5 422.4,1497.8 C424.8,1494.0 428.6,1491.0 429.9,1489.7" fill="none" stroke="#000" stroke-width="7" stroke-linecap="round" stroke-linejoin="round"/>
<path d="M429.9,1489.7 C432.8,1487.8 439.6,1482.7 447.0,1478.0 C454.4,1473.3 465.0,1466.5 474.0,1461.8 C483.0,1457.1 493.2,1453.4 501.0,1450.1 C508.8,1446.8 514.6,1444.0 520.8,1442.0 C526.9,1440.0 535.0,1438.7 537.9,1438.0" fill="none" stroke="#000" stroke-width="7" stroke-linecap="round" stroke-linejoin="round"/>
<path d="M537.9,1438.8 C535.0,1440.2 526.3,1444.5 520.8,1447.4 C515.2,1450.3 509.4,1453.1 504.6,1456.4 C499.8,1459.7 495.1,1463.6 492.0,1467.2 C488.9,1470.8 487.2,1473.8 485.7,1478.0 C484.2,1482.2 483.9,1487.0 483.0,1492.4 C482.1,1497.8 481.8,1505.3 480.3,1510.4 C478.8,1515.5 477.1,1519.8 474.0,1523.0 C470.9,1526.2 465.0,1529.3 461.4,1529.3 C457.8,1529.3 455.1,1526.5 452.4,1523.0 C449.7,1519.5 447.6,1512.9 445.2,1508.6 C442.8,1504.2 440.6,1500.1 438.0,1496.9 C435.4,1493.8 431.2,1490.9 429.9,1489.7" fill="none" stroke="#000" stroke-width="7" stroke-linecap="round" stroke-linejoin="round"/>
<line x1="538.8" y1="1445.0" x2="538.8" y2="1484.8" stroke="#000" stroke-width="1.4"/>
<polygon points="538.8,1441.0 535.3,1451.8 542.3,1451.8"/>
<polygon points="538.8,1488.8 535.3,1478.0 542.3,1478.0"/>
<line x1="538.8" y1="1495.0" x2="538.8" y2="1524.6" stroke="#000" stroke-width="1.4"/>
<polygon points="538.8,1491.0 535.3,1501.8 542.3,1501.8"/>
<polygon points="538.8,1528.6 535.3,1517.8 542.3,1517.8"/>
<line x1="479.4" y1="1529.4" x2="561" y2="1529.4" stroke="#000" stroke-width="1.7" stroke-dasharray="2 5.9"/>
<text x="322.0" y="1424.5" font-size="30" fill="#000">-S<tspan font-size="20" dy="9" letter-spacing="1">max</tspan></text>
<text x="494.5" y="1421.0" font-size="30" fill="#000">S<tspan font-size="20" dy="9" letter-spacing="1">max</tspan></text>
<text x="360.5" y="1559.0" font-size="30" fill="#000">-S<tspan font-size="20" dy="9" letter-spacing="1">min</tspan></text>
<text x="450.5" y="1559.0" font-size="30" fill="#000">S<tspan font-size="20" dy="9" letter-spacing="1">min</tspan></text>
<text x="510.0" y="1559.0" font-size="30" fill="#000">S<tspan font-size="20" dy="9" letter-spacing="1">neg</tspan></text>
<text x="432.8" y="1616.7" font-size="27" text-anchor="middle" textLength="256" lengthAdjust="spacing">Electric Field (kV/cm)</text>
<text transform="translate(285.7,1489) rotate(-90)" font-size="33" text-anchor="middle" textLength="170" lengthAdjust="spacing">Strain (%)</text>
</svg></body></html>
